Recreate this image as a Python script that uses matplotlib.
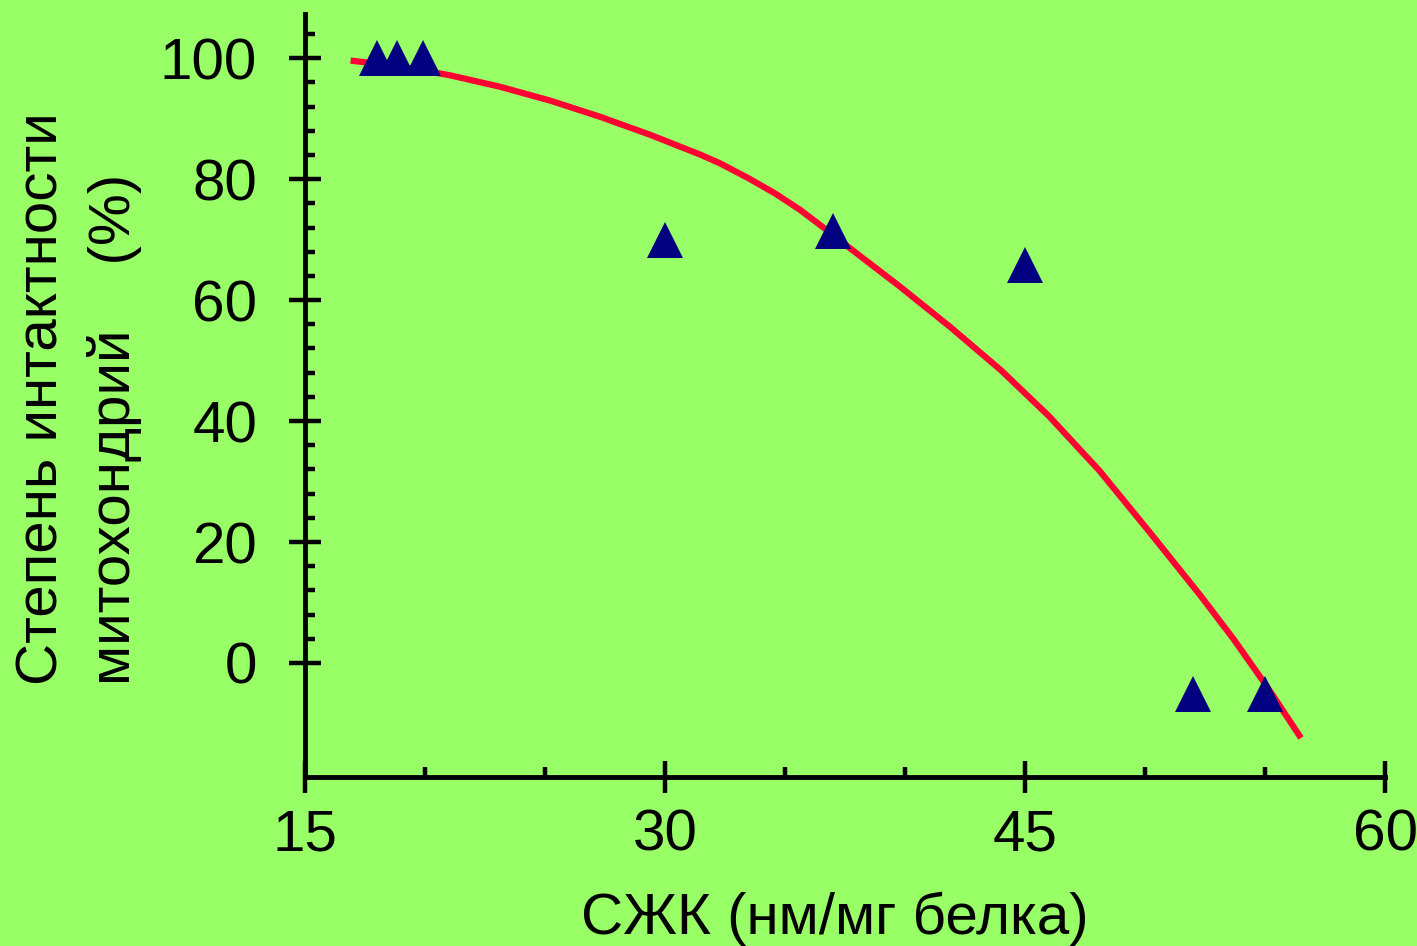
import matplotlib
matplotlib.use("Agg")
import matplotlib.pyplot as plt
from matplotlib.ticker import FixedLocator

plt.rcParams['font.family'] = ['Liberation Sans', 'DejaVu Sans']

# measured points (СЖК, % intact)
x_pts = [18.0, 18.85, 19.9, 30.0, 37.0, 45.0, 52.0, 55.0]
y_pts = [100.0, 100.0, 100.0, 69.9, 71.5, 65.8, -5.2, -5.2]

# fitted curve
x_fit = [16.9, 19.0, 21.0, 23.1, 25.2, 27.3, 29.4, 31.5, 32.3, 33.5, 34.6, 35.6, 36.7,
         37.7, 39.8, 41.9, 44.0, 46.0, 48.1, 50.2, 52.3, 53.7, 55.1, 56.5]
y_fit = [99.6, 98.6, 97.2, 95.3, 93.0, 90.3, 87.3, 84.0, 82.6, 80.1, 77.6, 75.0, 71.7,
         68.6, 62.2, 55.5, 48.4, 40.8, 31.8, 21.6, 11.2, 3.9, -4.0, -12.4]

x_major = [15, 30, 45, 60]
x_minor = [20, 25, 35, 40, 50, 55]
y_major = [0, 20, 40, 60, 80, 100]
y_minor = [v for v in range(4, 108, 4) if v % 20 != 0]

bg = '#99FF66'
W, H = 1417, 946

fig = plt.figure(figsize=(W / 100, H / 100), dpi=100, facecolor=bg)
ax = fig.add_axes([305 / W, 1 - 777 / H, 1080 / W, (777 - 14) / H])
ax.set_facecolor(bg)

ax.plot(x_fit, y_fit, color='#FF0033', lw=4.5, solid_capstyle='butt',
        solid_joinstyle='round', zorder=2)
ax.plot(x_pts, y_pts, linestyle='none', marker='^', ms=26, color='#000080',
        markeredgewidth=0, zorder=3)

ax.set_xlim(15, 60)
ax.set_ylim(-18.85, 107.3)

for s in ['top', 'right']:
    ax.spines[s].set_visible(False)
for s in ['left', 'bottom']:
    ax.spines[s].set_linewidth(3.5)
    ax.spines[s].set_color('black')

ax.xaxis.set_major_locator(FixedLocator(x_major))
ax.xaxis.set_minor_locator(FixedLocator(x_minor))
ax.yaxis.set_major_locator(FixedLocator(y_major))
ax.yaxis.set_minor_locator(FixedLocator(y_minor))

ax.tick_params(axis='both', which='major', direction='inout', length=23, width=3.2,
               labelsize=42, colors='black')
ax.tick_params(axis='y', which='major', pad=23)
ax.tick_params(axis='x', which='major', pad=11)
ax.tick_params(axis='both', which='minor', direction='in', length=7, width=3.2)

fig.text(57 / W, 1 - 685 / H, 'Степень интактности', rotation=90, rotation_mode='anchor',
         ha='left', va='baseline', fontsize=42)
fig.text(130 / W, 1 - 685 / H, 'митохондрий    (%)', rotation=90, rotation_mode='anchor',
         ha='left', va='baseline', fontsize=42)
fig.text(835 / W, 1 - 934 / H, 'СЖК (нм/мг белка)', ha='center', va='baseline', fontsize=42)

fig.savefig('out.png', dpi=100, facecolor=bg)
